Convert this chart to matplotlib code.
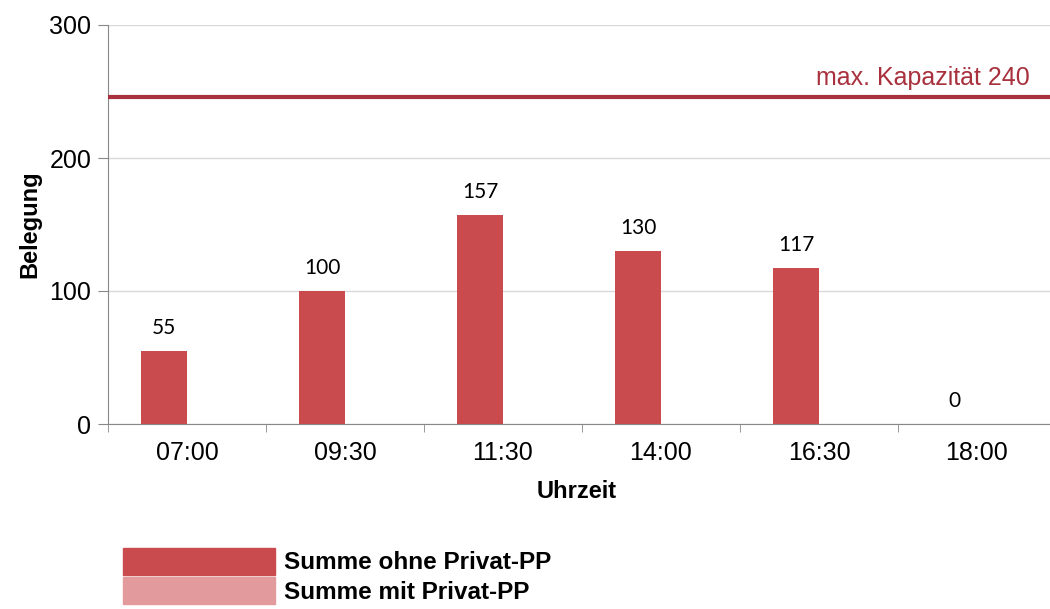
import numpy as np
import matplotlib
matplotlib.use('Agg')
import matplotlib.pyplot as plt
from matplotlib.patches import Patch

times = ['07:00', '09:30', '11:30', '14:00', '16:30', '18:00']
ohne_privat = [55, 100, 157, 130, 117, 0]
mit_privat = [0, 0, 0, 0, 0, 0]
capacity_line = 246
capacity_label = 'max. Kapazität 240'
series_names = ['Summe ohne Privat-PP', 'Summe mit Privat-PP']

c_ohne = '#c94b4d'
c_mit = '#e29a9c'
c_cap = '#a8313d'

plt.rcParams['font.family'] = ['Liberation Sans', 'DejaVu Sans']

fig = plt.figure(figsize=(10.5, 6.09), dpi=100)
ax = fig.add_axes([108 / 1050, 1 - 424 / 609, 948 / 1050, 399 / 609])

x = np.arange(len(times))
w = 0.29
ax.bar(x - w / 2, ohne_privat, w, color=c_ohne, zorder=3)
ax.bar(x + w / 2, mit_privat, w, color=c_mit, zorder=3)

# value labels above the first series
for xi, v in zip(x, ohne_privat):
    ax.text(xi - w / 2, v + 10, str(v), ha='center', va='bottom',
            fontsize=15, family=['Lato', 'DejaVu Sans'])

ax.axhline(capacity_line, color=c_cap, lw=3, zorder=4)
ax.text(5.335, 260, capacity_label, ha='right', va='center',
        fontsize=18, color=c_cap)

ax.set_xlim(-0.5, 5.5)
ax.set_ylim(0, 300)
ax.set_yticks([0, 100, 200, 300])
ax.set_xticks(x)
ax.set_xticklabels(times)
ax.set_xticks(np.arange(-0.5, 6, 1), minor=True)
ax.tick_params(axis='x', which='major', length=0, labelsize=18, pad=12)
ax.tick_params(axis='x', which='minor', length=6, color='#888888')
ax.tick_params(axis='y', length=7, color='#888888', labelsize=18, pad=5)
ax.grid(axis='y', color='#d9d9d9', lw=1, zorder=0)
for s in ['top', 'right']:
    ax.spines[s].set_visible(False)
ax.spines['left'].set_color('#888888')
ax.spines['bottom'].set_color('#888888')

ax.set_ylabel('Belegung', fontsize=17, fontweight='bold', labelpad=6)
fig.text(577 / 1050, 1 - 491 / 609, 'Uhrzeit', ha='center', va='center',
         fontsize=17, fontweight='bold')

handles = [Patch(color=c_ohne), Patch(color=c_mit)]
fig.legend(handles, series_names, loc='upper left',
           bbox_to_anchor=(113 / 1050, 1 - 538 / 609), frameon=False,
           handlelength=6.25, handleheight=1.35, handletextpad=0.4,
           labelspacing=0.08, borderaxespad=0,
           prop={'size': 17.5, 'weight': 'bold'})

fig.savefig('out.png', dpi=100)
